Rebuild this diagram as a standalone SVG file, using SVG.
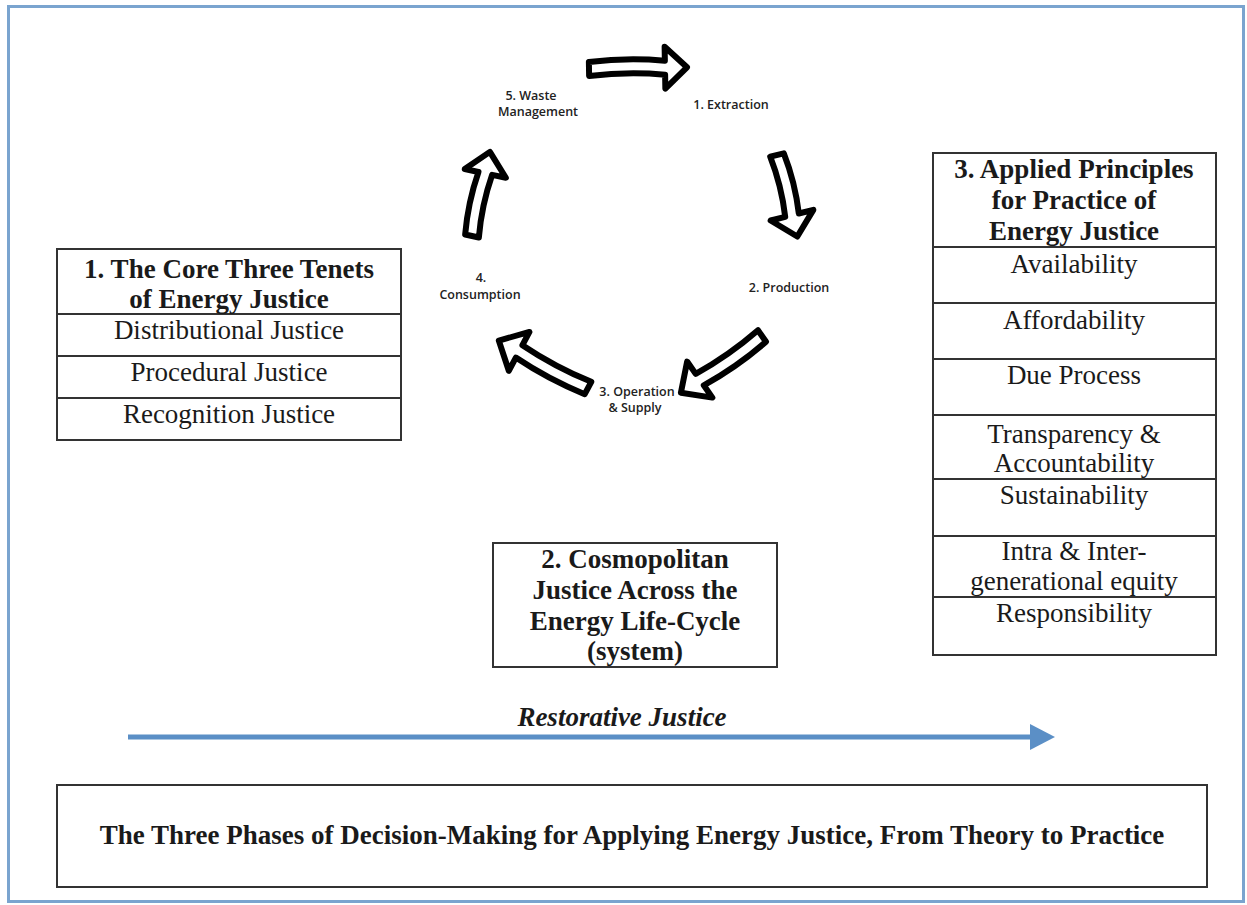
<svg xmlns="http://www.w3.org/2000/svg" width="1247" height="905" viewBox="0 0 1247 905">
<defs>
<style>
.box{fill:#fff;stroke:#333;stroke-width:2}
.div{stroke:#333;stroke-width:2}
.t{font-family:"Liberation Serif","Times New Roman",serif;font-size:27px;fill:#1a1a1a;text-anchor:middle}
.b{font-weight:bold}
.c{font-family:"Open Sans","Liberation Sans",sans-serif;font-size:12.5px;font-weight:600;fill:#222;text-anchor:middle}
.ca{fill:#fff;stroke:#000;stroke-width:6;stroke-linejoin:round}
</style>
<marker id="ah" markerWidth="6" markerHeight="6" refX="3" refY="3" orient="auto" markerUnits="strokeWidth">
<path d="M0,0.4 L5,3 L0,5.6 Z" fill="#5b8fc6"/>
</marker>
</defs>
<rect x="0" y="0" width="1247" height="905" fill="#fff"/>
<rect x="8.5" y="6.5" width="1235" height="895" fill="none" stroke="#7aa4cf" stroke-width="3"/>

<g id="connectors">
<path class="ca" transform="translate(589,69) rotate(-1)" d="M0,-7 Q38,-11 76,-7 L76,-21 L98,0 L76,21 L76,7 Q38,3 0,7 Z"/>
<path class="ca" transform="translate(777,155) rotate(76)" d="M0,-7 Q31,-11 62,-7 L62,-22 L84,0 L62,22 L62,7 Q31,3 0,7 Z"/>
<path class="ca" transform="translate(762,336) rotate(145)" d="M0,-7 Q38,-11 76,-7 L76,-22 L99,0 L76,22 L76,7 Q38,3 0,7 Z"/>
<path class="ca" transform="translate(588,388) rotate(-152)" d="M0,-7 Q39,-11 78,-7 L78,-22 L101,0 L78,22 L78,7 Q39,3 0,7 Z"/>
<path class="ca" transform="translate(472,236) rotate(-78)" d="M0,-7 Q32,-11 64,-7 L64,-21 L86,0 L64,21 L64,7 Q32,3 0,7 Z"/>
<line x1="128" y1="737" x2="1045" y2="737" stroke="#5b8fc6" stroke-width="5" marker-end="url(#ah)"/>
</g>

<g id="cycle-labels">
<text class="c" x="531" y="100">5. Waste</text>
<text class="c" x="538" y="116">Management</text>
<text class="c" x="731" y="109">1. Extraction</text>
<text class="c" x="789" y="292">2. Production</text>
<text class="c" x="481" y="282">4.</text>
<text class="c" x="480" y="299">Consumption</text>
<text class="c" x="637" y="396">3. Operation</text>
<text class="c" x="635" y="412">&amp; Supply</text>
</g>

<g id="node-core-tenets">
<rect class="box" x="57" y="249" width="344" height="191"/>
<line class="div" x1="57" y1="314" x2="401" y2="314"/>
<line class="div" x1="57" y1="356" x2="401" y2="356"/>
<line class="div" x1="57" y1="398" x2="401" y2="398"/>
<text class="t b" x="229" y="278">1. The Core Three Tenets</text>
<text class="t b" x="229" y="308">of Energy Justice</text>
<text class="t" x="229" y="339">Distributional Justice</text>
<text class="t" x="229" y="381">Procedural Justice</text>
<text class="t" x="229" y="423">Recognition Justice</text>
</g>

<g id="node-cosmopolitan">
<rect class="box" x="493" y="543" width="284" height="124"/>
<text class="t b" x="635" y="568">2. Cosmopolitan</text>
<text class="t b" x="635" y="599">Justice Across the</text>
<text class="t b" x="635" y="630">Energy Life-Cycle</text>
<text class="t b" x="635" y="660">(system)</text>
</g>

<g id="node-applied-principles">
<rect class="box" x="933" y="153" width="283" height="502"/>
<line class="div" x1="933" y1="247" x2="1216" y2="247"/>
<line class="div" x1="933" y1="303" x2="1216" y2="303"/>
<line class="div" x1="933" y1="359" x2="1216" y2="359"/>
<line class="div" x1="933" y1="415" x2="1216" y2="415"/>
<line class="div" x1="933" y1="479" x2="1216" y2="479"/>
<line class="div" x1="933" y1="536" x2="1216" y2="536"/>
<line class="div" x1="933" y1="597" x2="1216" y2="597"/>
<text class="t b" x="1074" y="178">3. Applied Principles</text>
<text class="t b" x="1074" y="209">for Practice of</text>
<text class="t b" x="1074" y="240">Energy Justice</text>
<text class="t" x="1074" y="273">Availability</text>
<text class="t" x="1074" y="329">Affordability</text>
<text class="t" x="1074" y="384">Due Process</text>
<text class="t" x="1074" y="443">Transparency &amp;</text>
<text class="t" x="1074" y="472">Accountability</text>
<text class="t" x="1074" y="504">Sustainability</text>
<text class="t" x="1074" y="560">Intra &amp; Inter-</text>
<text class="t" x="1074" y="590">generational equity</text>
<text class="t" x="1074" y="622">Responsibility</text>
</g>

<g id="node-restorative">
<text class="t b" x="622" y="726" style="font-style:italic">Restorative Justice</text>
</g>

<g id="node-phases">
<rect class="box" x="57" y="785" width="1150" height="102"/>
<text class="t b" x="632" y="844">The Three Phases of Decision-Making for Applying Energy Justice, From Theory to Practice</text>
</g>
</svg>
